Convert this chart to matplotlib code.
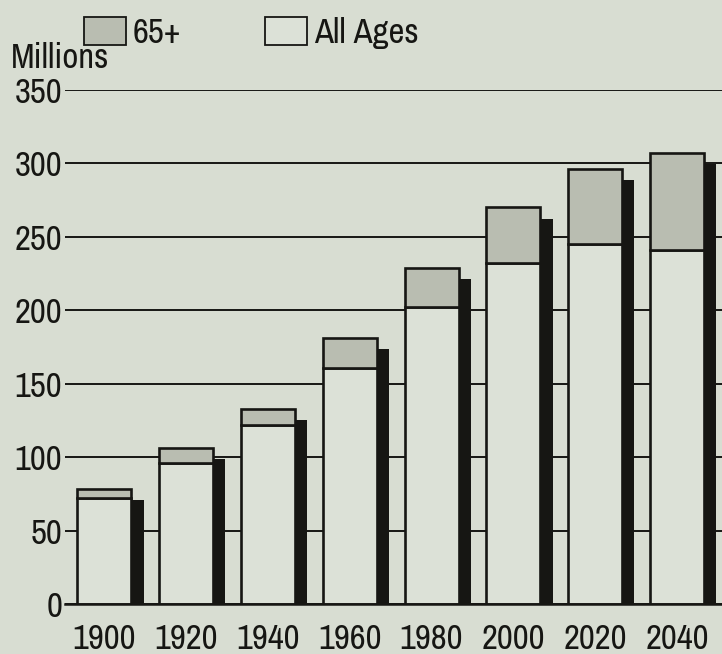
import numpy as np
import matplotlib
matplotlib.use("Agg")
import matplotlib.pyplot as plt
from matplotlib.patches import Patch

plt.rcParams['font.family'] = ['Archivo Narrow', 'Roboto Condensed', 'DejaVu Sans']

# population in millions
years = ['1900', '1920', '1940', '1960', '1980', '2000', '2020', '2040']
total = [78, 106, 133, 181, 229, 270, 296, 307]
under65 = [72, 96, 122, 161, 202, 232, 245, 241]
aged65 = [t - u for t, u in zip(total, under65)]
yticks = [0, 50, 100, 150, 200, 250, 300, 350]

bg = '#d8ddd2'
fill_light = '#dce1d7'
fill_gray = '#b9bdb1'
ink = '#161613'
fs = 25

fig = plt.figure(figsize=(7.22, 6.54), dpi=100, facecolor=bg)
ax = fig.add_axes([65/722, 50/654, 657/722, 514/654], facecolor=bg)

x = np.arange(len(years))
w = 0.66
# drop shadow: same bar shifted right and down
ax.bar(x + 0.15, np.array(total) - 7.5, width=w, color=ink, linewidth=0, zorder=2)
ax.bar(x, under65, width=w, color=fill_light, edgecolor=ink, linewidth=1.9, zorder=3)
ax.bar(x, aged65, bottom=under65, width=w, color=fill_gray, edgecolor=ink,
       linewidth=1.9, zorder=3)

ax.set_xlim(-0.48, 7.55)
ax.set_ylim(0, 350)
ax.set_yticks(yticks)
ax.set_xticks(x)
ax.set_xticklabels(years)
ax.yaxis.grid(True, color=ink, linewidth=1.4)
ax.set_axisbelow(True)
ax.tick_params(axis='y', length=0, pad=2, labelsize=fs, colors=ink)
ax.tick_params(axis='x', length=0, pad=14, labelsize=fs, colors=ink)
for s in ['top', 'left', 'right']:
    ax.spines[s].set_visible(False)
ax.spines['bottom'].set_color(ink)
ax.spines['bottom'].set_linewidth(1.8)
ax.spines['bottom'].set_zorder(4)

fig.text(11/722, 1 - 68/654, 'Millions', fontsize=fs, color=ink, va='baseline')

handles = [Patch(facecolor=fill_gray, edgecolor=ink, linewidth=1.3),
           Patch(facecolor=fill_light, edgecolor=ink, linewidth=1.3)]
fig.legend(handles, ['65+', 'All Ages'], loc='center left',
           bbox_to_anchor=(84/722, 1 - 33/654), ncol=2, frameon=False,
           fontsize=fs, handlelength=1.21, handleheight=0.84,
           handletextpad=0.2, columnspacing=2.4, borderpad=0,
           borderaxespad=0, labelcolor=ink)

fig.savefig('out.png', dpi=100, facecolor=bg)
